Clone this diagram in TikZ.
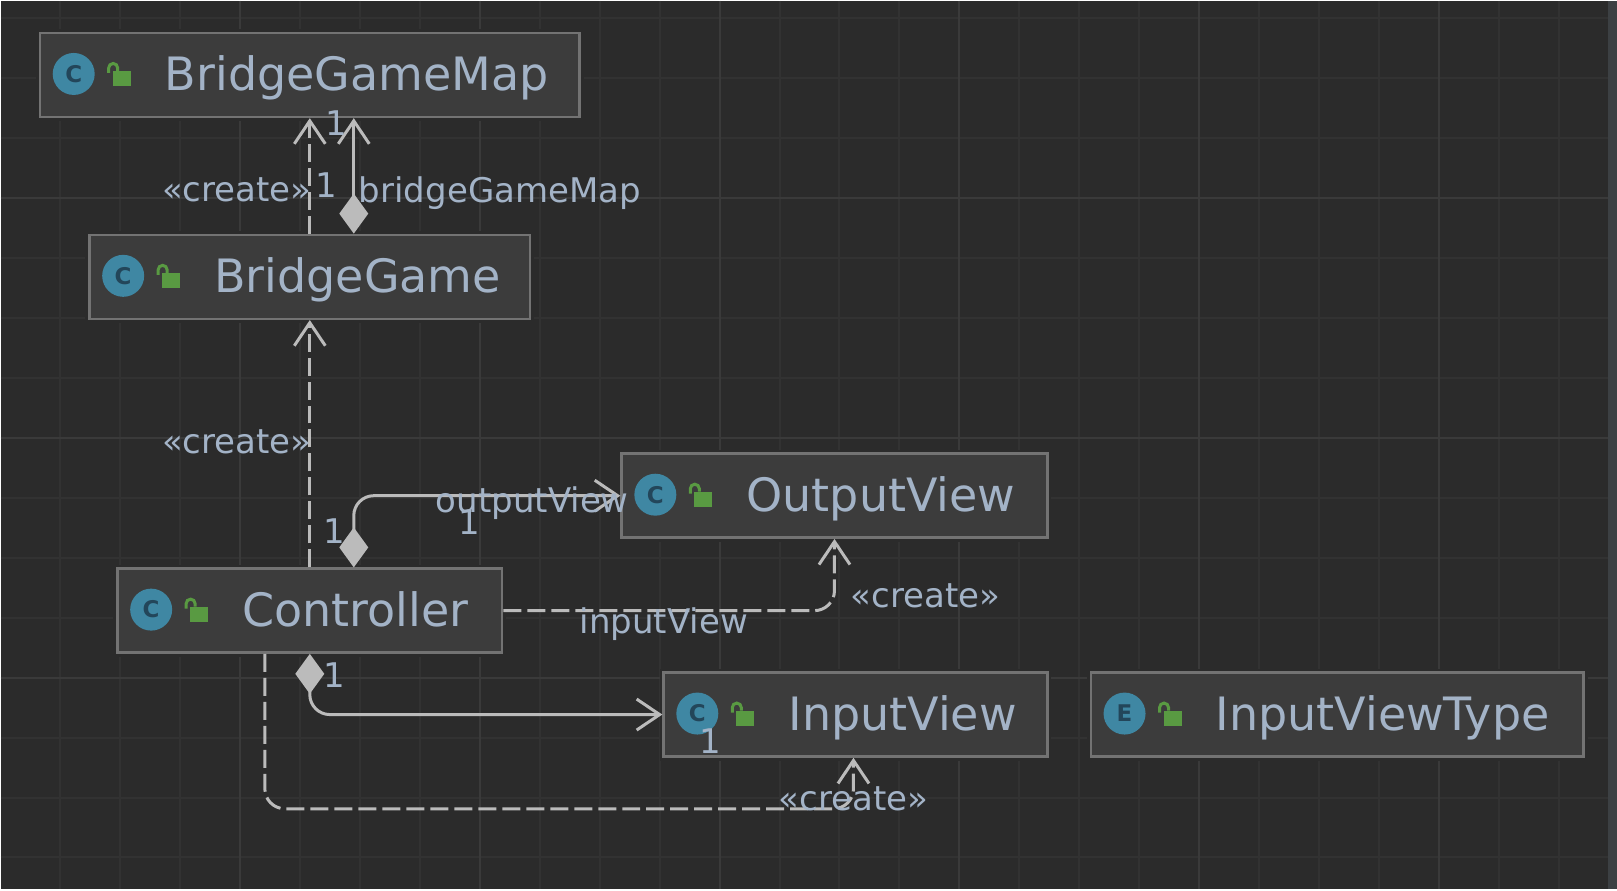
\documentclass[tikz,border=0pt]{standalone}
\usepackage{fontspec}
\setmainfont{DejaVu Sans}
\usetikzlibrary{calc}
\usetikzlibrary{arrows.meta, positioning}

\definecolor{canvas}{HTML}{2B2B2B}
\definecolor{gridminor}{HTML}{323232}
\definecolor{gridmajor}{HTML}{3A3A3A}
\definecolor{strip}{HTML}{3C4043}
\definecolor{boxfill}{HTML}{3C3C3C}
\definecolor{boxline}{HTML}{737373}
\definecolor{edgeline}{HTML}{BBBBBB}
\definecolor{labeltext}{HTML}{A3B3C7}
\definecolor{iconteal}{HTML}{3F87A3}
\definecolor{iconletter}{HTML}{23465A}
\definecolor{lockgreen}{HTML}{599A42}

\begin{document}
\begin{tikzpicture}[x=1pt,y=-1pt]
            \tikzstyle{classbox} = [rectangle, minimum height=84pt, inner sep=0pt, fill=boxfill, draw=boxline, line width=2.5pt, preaction={draw=canvas, line width=8pt}]
            \tikzstyle{classname} = [anchor=base west, inner sep=0pt, text=labeltext, font=\fontsize{46}{50}\selectfont]
            \tikzstyle{classicon} = [circle, minimum size=42pt, inner sep=0pt, fill=iconteal, text=iconletter, font=\fontsize{23}{25}\selectfont\bfseries]
            \tikzstyle{edgelabel} = [anchor=base west, inner sep=0pt, text=labeltext, font=\fontsize{34}{38}\selectfont]
            \tikzstyle{assoc} = [draw=edgeline, line width=3pt, rounded corners=20pt]
            \tikzstyle{solidedge} = [assoc, {Diamond[length=40pt,width=29pt]}-{Straight Barb[length=23pt,width=31pt]}]
            \tikzstyle{dashedge} = [assoc, dash pattern=on 18pt off 6pt, -{Straight Barb[length=23pt,width=31pt]}]

            % Canvas .........................
            \fill[canvas] (0,0) rectangle (1617,889);
            \foreach \gx in {59,119,...,1559} \draw[gridminor, line width=2pt] (\gx,0) -- (\gx,889);
            \foreach \gy in {17,77,...,857} \draw[gridminor, line width=2pt] (0,\gy) -- (1608,\gy);
            \foreach \gx in {239,479,...,1439} \draw[gridmajor, line width=2pt] (\gx,0) -- (\gx,889);
            \foreach \gy in {197,437,677} \draw[gridmajor, line width=2pt] (0,\gy) -- (1608,\gy);
            \fill[strip] (1608,0) rectangle (1617,889);

            % Classes .........................
            \node[classbox, minimum width=540pt] (map) at (309,74) {};
            \node[classbox, minimum width=441pt] (game) at (309,276) {};
            \node[classbox, minimum width=385pt] (ctrl) at (309,610) {};
            \node[classbox, minimum width=426pt] (output) at (834,495) {};
            \node[classbox, minimum width=384pt] (input) at (855,714) {};
            \node[classbox, minimum width=493pt] (viewtype) at (1337,714) {};

            \foreach \n/\t/\k in {map/BridgeGameMap/C, game/BridgeGame/C, ctrl/Controller/C, output/OutputView/C, input/InputView/C, viewtype/InputViewType/E} {
                \begin{scope}[shift={(\n.west)}]
                    \node[classicon] (\n icon) at (35,-1) {\k};
                    \fill[lockgreen] (74,-4) rectangle (92,11);
                    \draw[lockgreen, line width=3pt] (70,-2) -- (70,-7) arc[start angle=180, end angle=360, radius=4.5pt, y radius=-4.5pt] -- (79,-4);
                    \node[classname] (\n name) at (126,16) {\t};
                \end{scope}
            }

            % Connectors .........................
            \draw[dashedge] (game.north) -- (map.south);
            \draw[solidedge] ($(game.north)+(44,0)$) -- ($(map.south)+(44,0)$);
            \draw[dashedge] (ctrl.north) -- (game.south);
            \draw[solidedge] ($(ctrl.north)+(44,0)$) |- (output.west);
            \draw[dashedge] (ctrl.east) -| (output.south);
            \draw[solidedge] (ctrl.south) |- (input.west);
            \draw[dashedge] ($(ctrl.south)+(-45,0)$) |- ($(input.south)+(-2,51)$) -- ($(input.south)+(-2,0)$);

            % Labels .........................
            \node[edgelabel] (createmap) at (161,201) {«create»};
            \node[edgelabel] (onegame) at (314,197) {1};
            \node[edgelabel] (onemap) at (324,135) {1};
            \node[edgelabel] (mapfield) at (358,202) {bridgeGameMap};
            \node[edgelabel] (creategame) at (161,453) {«create»};
            \node[edgelabel] (outputfield) at (435,512) {outputView};
            \node[edgelabel] (oneoutput) at (458,534) {1};
            \node[edgelabel] (onectrlup) at (322,543) {1};
            \node[edgelabel] (inputfield) at (579,633) {inputView};
            \node[edgelabel] (createoutput) at (850,607) {«create»};
            \node[edgelabel] (onectrldown) at (322,687) {1};
            \node[edgelabel] (oneinput) at (699,753) {1};
            \node[edgelabel] (createinput) at (778,810) {«create»};

        \end{tikzpicture}
\end{document}
